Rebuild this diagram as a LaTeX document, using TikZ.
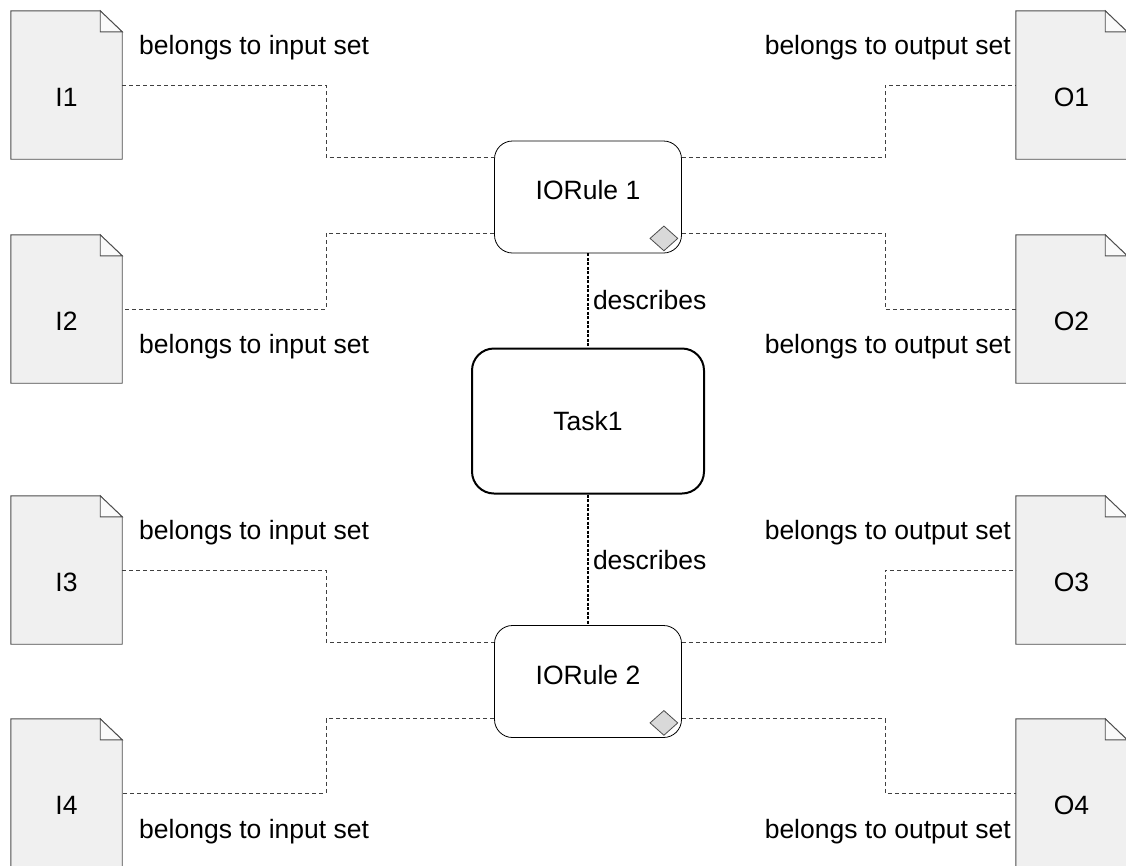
\documentclass[tikz,border=0pt]{standalone}
\usepackage{fontspec}
\setmainfont{Liberation Sans}
\usetikzlibrary{positioning, shapes.geometric, calc, backgrounds}

\begin{document}
\begin{tikzpicture}[x=1pt, y=-1pt,
    every node/.style={font=\fontsize{26.5}{31}\selectfont},
    docbox/.style={minimum width=111pt, minimum height=148pt, inner sep=0pt,
        label={[yshift=-12pt]center:#1}},
    docline/.style={draw=black!70, fill=black!6, line width=0.9pt},
    foldline/.style={draw=black!70, fill=black!2, line width=0.9pt},
    rulebox/.style={draw, rounded corners=18pt, minimum width=187pt,
        minimum height=112pt, line width=0.8pt, text depth=14pt},
    taskbox/.style={draw, rounded corners=22pt, minimum width=232pt,
        minimum height=145pt, line width=2pt},
    marker/.style={diamond, draw=black!70, fill=black!15, inner sep=0pt,
        minimum width=28pt, minimum height=25pt, line width=0.8pt},
    linklabel/.style={inner sep=0pt},
    link/.style={draw=black!75, dash pattern=on 4pt off 3pt, line width=0.9pt},
    descr/.style={draw, dash pattern=on 3pt off 1.5pt, line width=2pt}]
                \useasboundingbox (0,0) rectangle (1126,865);

                % Rules and task
                \node[rulebox] (R1) at (588,197) {IORule 1};
                \node[taskbox] (T) at (588,421) {Task1};
                \node[rulebox] (R2) at (588,681.5) {IORule 2};
                \node[marker] (m1) at ([xshift=-18pt,yshift=15pt]R1.south east) {};
                \node[marker] (m2) at ([xshift=-18pt,yshift=15pt]R2.south east) {};

                % Documents
                \node[docbox=I1] (I1) at (66.5,85) {};
                \node[docbox=I2] (I2) at (66.5,309) {};
                \node[docbox=I3] (I3) at (66.5,570) {};
                \node[docbox=I4] (I4) at (66.5,793) {};
                \node[docbox=O1] (O1) at (1071.5,85) {};
                \node[docbox=O2] (O2) at (1071.5,309) {};
                \node[docbox=O3] (O3) at (1071.5,570) {};
                \node[docbox=O4] (O4) at (1071.5,793) {};
                \begin{scope}[on background layer]
                \foreach \d in {I1,I2,I3,I4,O1,O2,O3,O4} {
                    \draw[docline] (\d.south west) -- (\d.north west)
                        -- ([xshift=-22pt]\d.north east) -- ([yshift=-21pt]\d.north east)
                        -- (\d.south east) -- cycle;
                    \draw[foldline] ([xshift=-22pt]\d.north east) |- ([yshift=-21pt]\d.north east) -- cycle;
                }
                \end{scope}

                % Attachment points
                \coordinate (xl) at (326,0);
                \coordinate (xr) at (885,0);
                \coordinate (r1a) at ([yshift=-17pt]R1.north west);
                \coordinate (r1b) at ([yshift=20pt]R1.south west);
                \coordinate (r1c) at ([yshift=-17pt]R1.north east);
                \coordinate (r1d) at ([yshift=20pt]R1.south east);
                \coordinate (r2a) at ([yshift=-17pt]R2.north west);
                \coordinate (r2b) at ([yshift=19pt]R2.south west);
                \coordinate (r2c) at ([yshift=-17pt]R2.north east);
                \coordinate (r2d) at ([yshift=19pt]R2.south east);

                % Input links
                \draw[link] (I1.east) -| (xl |- r1a) -- (r1a);
                \draw[link] (r1b) -| (xl |- I2.east) -- (I2.east);
                \draw[link] (I3.east) -| (xl |- r2a) -- (r2a);
                \draw[link] (r2b) -| (xl |- I4.east) -- (I4.east);

                % Output links
                \draw[link] (r1c) -| (xr |- O1.west) -- (O1.west);
                \draw[link] (r1d) -| (xr |- O2.west) -- (O2.west);
                \draw[link] (r2c) -| (xr |- O3.west) -- (O3.west);
                \draw[link] (r2d) -| (xr |- O4.west) -- (O4.west);

                % Link labels
                \node[linklabel, anchor=west] (li1) at (139,48) {belongs to input set};
                \node[linklabel, anchor=west] (li2) at (139,347) {belongs to input set};
                \node[linklabel, anchor=west] (li3) at (139,533) {belongs to input set};
                \node[linklabel, anchor=west] (li4) at (139,832) {belongs to input set};
                \node[linklabel, anchor=east] (lo1) at (1011,48) {belongs to output set};
                \node[linklabel, anchor=east] (lo2) at (1011,347) {belongs to output set};
                \node[linklabel, anchor=east] (lo3) at (1011,533) {belongs to output set};
                \node[linklabel, anchor=east] (lo4) at (1011,832) {belongs to output set};

                % Describes
                \draw[descr] (R1) -- (T) node[midway, right, inner sep=4pt] {describes};
                \draw[descr] (T) -- (R2) node[midway, right, inner sep=4pt] {describes};
\end{tikzpicture}
\end{document}
